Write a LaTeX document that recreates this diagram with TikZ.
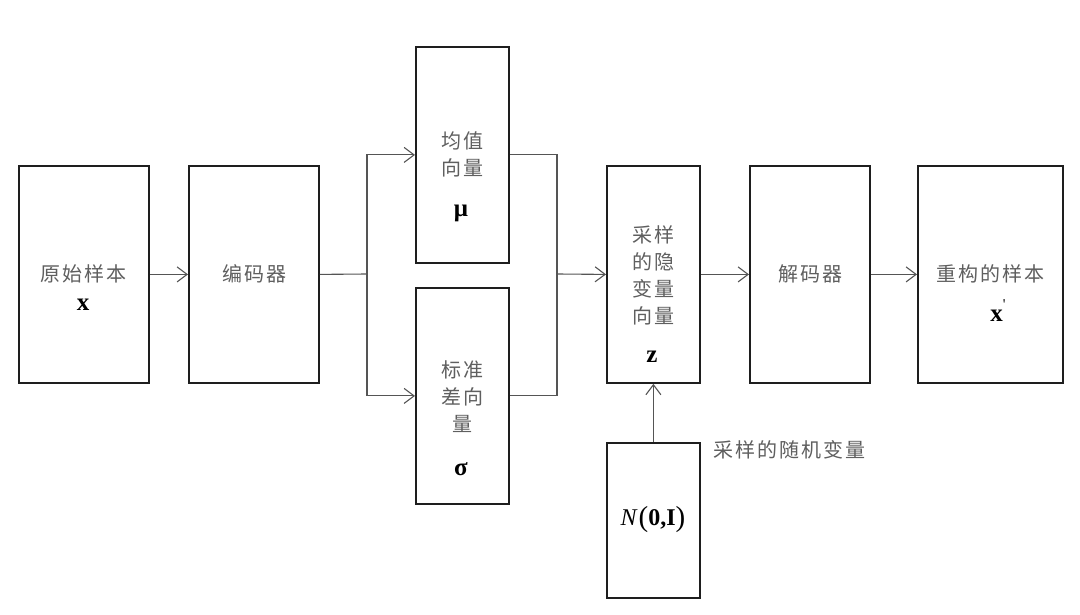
\documentclass[tikz,border=0pt]{standalone}
\usepackage{fontspec}
\newfontfamily\cjk[LetterSpace=10]{Noto Sans CJK SC}
\newfontfamily\tms{Liberation Serif}
\usetikzlibrary{arrows.meta}
\definecolor{boxline}{RGB}{30,30,30}
\definecolor{connline}{RGB}{85,85,85}
\definecolor{cntext}{RGB}{95,95,95}
\tikzset{
  blk/.style={draw=boxline, line width=1.8pt, fill=white, inner sep=0pt, anchor=north west},
  conn/.style={draw=connline, line width=1.1pt},
  arr/.style={conn, -{Straight Barb[length=10pt,width=15pt,line width=1.1pt]}},
  cntxt/.style={font=\cjk\fontsize{20}{27}\selectfont, text=cntext, align=center, inner sep=0pt},
  mtxt/.style={font=\tms\bfseries\fontsize{25}{28}\selectfont, text=black, inner sep=0pt}
}
\begin{document}
\begin{tikzpicture}[x=1pt,y=-1pt]
\useasboundingbox[fill=white] (0,0) rectangle (1080,615);
% boxes
\node[blk, minimum width=130pt, minimum height=217pt] (b1) at (18,165) {};
\node[blk, minimum width=130pt, minimum height=217pt] (b2) at (188,165) {};
\node[blk, minimum width=93pt, minimum height=216pt] (mu) at (415,46) {};
\node[blk, minimum width=93pt, minimum height=216pt] (sig) at (415,287) {};
\node[blk, minimum width=93pt, minimum height=217pt] (z) at (606,165) {};
\node[blk, minimum width=120pt, minimum height=217pt] (dec) at (749,165) {};
\node[blk, minimum width=145pt, minimum height=217pt] (rec) at (917,165) {};
\node[blk, minimum width=93pt, minimum height=155pt] (nrm) at (606,442) {};
% texts
\node[cntxt] (t1) at (84,274) {原始样本};
\node[mtxt] (m1) at (83,305) {x};
\node[cntxt] (t2) at (254,274) {编码器};
\node[cntxt] (t3) at (462,154) {均值\\向量};
\node[mtxt] (m3) at (461,213) {μ};
\node[cntxt] (t4) at (462,397) {标准\\差向\\量};
\node[mtxt] (m4) at (461,469) {σ};
\node[cntxt] (t5) at (653,275) {采样\\的隐\\变量\\向量};
\node[mtxt] (m5) at (652,357) {z};
\node[cntxt] (t6) at (810,274) {解码器};
\node[cntxt] (t7) at (990,274) {重构的样本};
\node[mtxt] (m7) at (998,311) {x\raisebox{12pt}{\fontsize{15}{15}\selectfont\mdseries '}};
\node[mtxt, font=\tms\fontsize{24}{28}\selectfont] (m8) at (653,520) {\textit{N}\kern1pt\raisebox{-1pt}{\fontsize{29}{29}\selectfont(}\textbf{0,I}\raisebox{-1pt}{\fontsize{29}{29}\selectfont)}};
\node[cntxt, anchor=west] (t9) at (713,450) {采样的随机变量};
% connectors
\coordinate (s1) at (367,274);
\coordinate (j1) at (557,274);
\draw[arr] (b1.east) -- (b2.west);
\draw[conn] (b2.east) -- (s1);
\draw[arr] (s1) |- (mu.west);
\draw[arr] (s1) |- (sig.west);
\draw[conn] (mu.east) -| (j1);
\draw[conn] (sig.east) -| (j1);
\draw[arr] (j1) -- (z.west);
\draw[arr] (z.east) -- (dec.west);
\draw[arr] (dec.east) -- (rec.west);
\draw[arr] (nrm.north) -- (z.south);
\end{tikzpicture}
\end{document}
